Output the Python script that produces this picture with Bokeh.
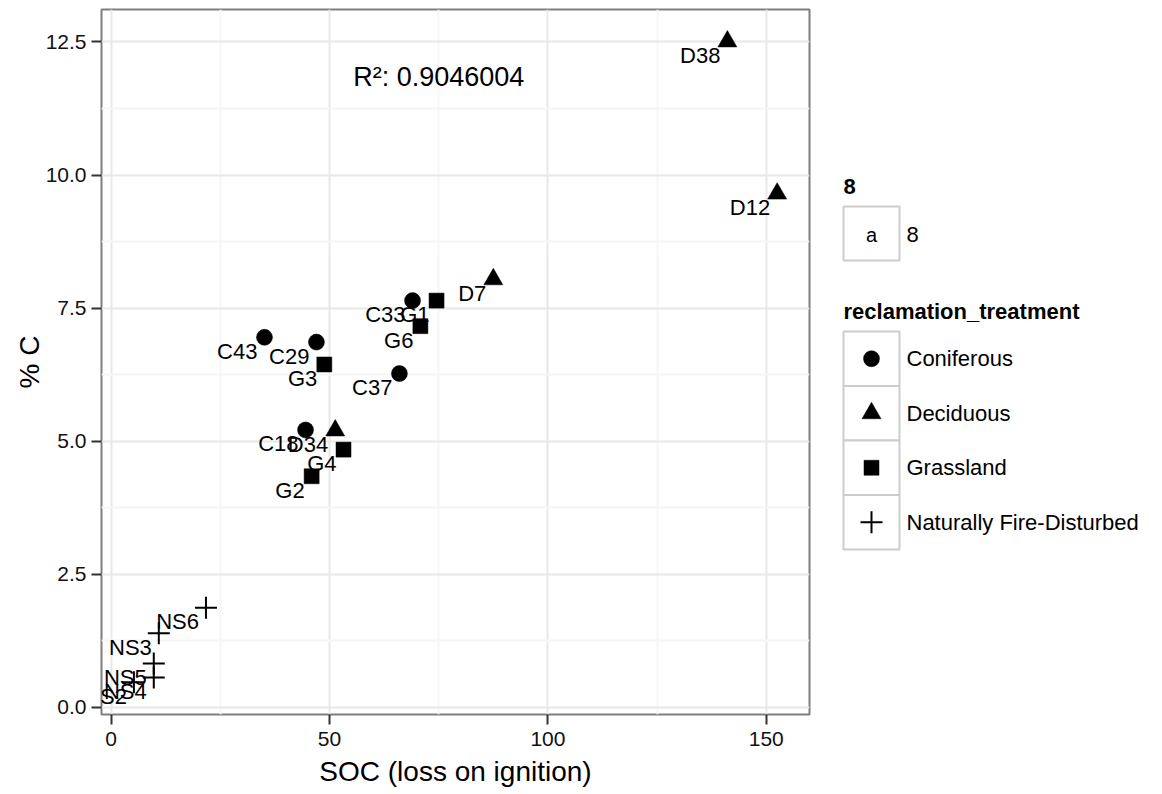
from bokeh.plotting import figure
from bokeh.models import Range1d, FixedTicker, ColumnDataSource
from bokeh.layouts import row
from bokeh.embed import file_html
from bokeh.resources import INLINE
from bokeh.core.properties import value

# ---------------- data ----------------
sample = ["C18", "C29", "C33", "C37", "C43",
          "D7", "D12", "D34", "D38",
          "G1", "G2", "G3", "G4", "G6",
          "NS2", "NS3", "NS4", "NS5", "NS6"]
soc = [44.5, 47.0, 69.0, 66.0, 35.1,
       87.5, 152.5, 51.3, 141.1,
       74.5, 45.9, 48.8, 53.2, 70.8,
       5.2, 10.9, 9.75, 9.75, 21.7]
pct_c = [5.21, 6.86, 7.64, 6.27, 6.95,
         8.04, 9.65, 5.20, 12.51,
         7.64, 4.34, 6.44, 4.84, 7.16,
         0.47, 1.39, 0.56, 0.82, 1.87]
treatment = ["Coniferous"] * 5 + ["Deciduous"] * 4 + ["Grassland"] * 5 + ["Naturally Fire-Disturbed"] * 5

categories = ["Coniferous", "Deciduous", "Grassland", "Naturally Fire-Disturbed"]
markers = ["circle", "triangle", "square", "cross"]
marker_sizes = [16, 19, 15, 22]

x_ticks = [0, 50, 100, 150]
x_minor = [25, 75, 125]
y_ticks = [0, 2.5, 5, 7.5, 10, 12.5]
y_tick_labels = ["0.0", "2.5", "5.0", "7.5", "10.0", "12.5"]
y_minor = [1.25, 3.75, 6.25, 8.75, 11.25]

r2_text = "R\u00b2: 0.9046004"
r2_pos = (75, 11.85)

FONT = "Liberation Sans"

FRAME_TOP, FRAME_H, FRAME_BOTTOM_BORDER = 9, 705, 80

# ---------------- main panel ----------------
p = figure(frame_width=708, frame_height=FRAME_H,
           min_border_left=101, min_border_right=11,
           min_border_top=FRAME_TOP, min_border_bottom=FRAME_BOTTOM_BORDER,
           x_range=Range1d(-2.22, 159.9), y_range=Range1d(-0.137, 13.11),
           output_backend="svg", toolbar_location=None,
           background_fill_color="white", border_fill_color="white")

p.outline_line_color = "#7f7f7f"
p.outline_line_width = 2

p.xaxis.ticker = FixedTicker(ticks=x_ticks, minor_ticks=x_minor)
p.yaxis.ticker = FixedTicker(ticks=y_ticks, minor_ticks=y_minor)
p.yaxis.major_label_overrides = {t: l for t, l in zip(y_ticks, y_tick_labels)}

for ax in (p.xaxis, p.yaxis):
    ax.axis_line_color = None
    ax.major_tick_line_color = "#333333"
    ax.major_tick_line_width = 2
    ax.major_tick_out = 10
    ax.major_tick_in = 0
    ax.minor_tick_line_color = None
    ax.major_label_text_font = FONT
    ax.major_label_text_font_size = "21px"
    ax.major_label_text_color = "#111111"
    ax.axis_label_text_font = FONT
    ax.axis_label_text_font_size = "28px"
    ax.axis_label_text_font_style = "normal"
    ax.axis_label_text_color = "black"

p.xaxis.axis_label = "SOC (loss on ignition)"
p.yaxis.axis_label = "% C"
p.xaxis.major_label_standoff = 7
p.yaxis.major_label_standoff = 5
p.xaxis.axis_label_standoff = 7
p.yaxis.axis_label_standoff = -2

p.grid.grid_line_color = "#e8e8e8"
p.grid.grid_line_width = 2
p.grid.minor_grid_line_color = "#f6f6f6"
p.grid.minor_grid_line_width = 2

for cat, mk, sz in zip(categories, markers, marker_sizes):
    idx = [i for i, t in enumerate(treatment) if t == cat]
    src = ColumnDataSource(dict(x=[soc[i] for i in idx], y=[pct_c[i] for i in idx]))
    if mk == "cross":
        p.scatter("x", "y", source=src, marker=mk, size=sz,
                  line_color="black", line_width=2, fill_color=None)
    else:
        p.scatter("x", "y", source=src, marker=mk, size=sz,
                  line_color="black", fill_color="black", line_width=0.5)

lab_src = ColumnDataSource(dict(x=soc, y=pct_c, t=sample))
p.text("x", "y", text="t", source=lab_src, text_align="right",
       text_baseline="alphabetic", x_offset=-7, y_offset=14,
       text_font=value(FONT), text_font_size="22px", text_color="black")

p.text(x=[r2_pos[0]], y=[r2_pos[1]], text=[r2_text], text_align="center",
       text_baseline="alphabetic", text_font=value(FONT),
       text_font_size="27px", text_color="black")

# ---------------- legend panel (screen-pixel coordinates) ----------------
lg = figure(frame_width=342, frame_height=FRAME_H,
            min_border_left=0, min_border_right=0,
            min_border_top=FRAME_TOP, min_border_bottom=FRAME_BOTTOM_BORDER,
            x_range=Range1d(820, 1162), y_range=Range1d(FRAME_TOP + FRAME_H, FRAME_TOP),
            output_backend="svg", toolbar_location=None,
            x_axis_location=None, y_axis_location=None,
            background_fill_color="white", border_fill_color="white")
lg.outline_line_color = None
lg.grid.visible = False

key_left, key_right = 843, 899
label_x = 906
key_cx = (key_left + key_right) / 2

# legend "8" (text key)
lg.text(x=[key_left], y=[186], text=["8"], text_font=value(FONT), text_font_size="22px",
        text_font_style="bold", text_baseline="middle", text_align="left")
lg.quad(left=[key_left], right=[key_right], top=[206], bottom=[260],
        fill_color="white", line_color="#cccccc", line_width=2)
lg.text(x=[key_cx], y=[234], text=["a"], text_font=value(FONT), text_font_size="20px",
        text_baseline="middle", text_align="center")
lg.text(x=[label_x], y=[234], text=["8"], text_font=value(FONT), text_font_size="22px",
        text_baseline="middle", text_align="left")

# legend reclamation_treatment
lg.text(x=[key_left], y=[311], text=["reclamation_treatment"], text_font=value(FONT),
        text_font_size="22px", text_font_style="bold", text_baseline="middle",
        text_align="left")
box_top0 = 331
box_h = 54.5
tops = [box_top0 + i * box_h for i in range(len(categories))]
bottoms = [t + box_h for t in tops]
centers = [t + box_h / 2 for t in tops]
lg.quad(left=[key_left] * len(categories), right=[key_right] * len(categories),
        top=tops, bottom=bottoms, fill_color="white", line_color="#cccccc", line_width=2)
for cat, mk, sz, cy in zip(categories, markers, marker_sizes, centers):
    if mk == "cross":
        lg.scatter(x=[key_cx], y=[cy], marker=mk, size=sz, line_color="black",
                   line_width=2, fill_color=None)
    else:
        lg.scatter(x=[key_cx], y=[cy], marker=mk, size=sz, line_color="black",
                   fill_color="black", line_width=0.5)
lg.text(x=[label_x] * len(categories), y=centers, text=categories, text_font=value(FONT),
        text_font_size="22px", text_baseline="middle", text_align="left")

layout = row(p, lg, spacing=0)
open("out.html", "w").write(file_html(layout, INLINE))
